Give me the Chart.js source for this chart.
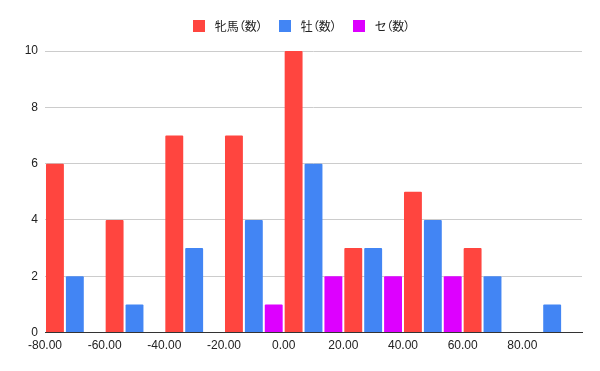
<!DOCTYPE html>
<html>
<head>
<meta charset="utf-8">
<script src="https://cdn.jsdelivr.net/npm/chart.js@4"></script>
<style>
html,body{margin:0;padding:0;background:#fff;}
#wrap{width:600px;height:371px;position:relative;}
#legend{position:absolute;top:20px;left:3px;width:597px;height:12px;display:flex;justify-content:center;align-items:center;
  font-family:'Noto Sans CJK JP','Liberation Sans',Arial,sans-serif;font-size:12px;color:#222;font-feature-settings:"palt";line-height:12px;}
#legend .item{display:flex;align-items:center;margin:0 8px;}
#legend .box{width:12px;height:12px;margin-right:10px;}
</style>
</head>
<body>
<div id="wrap"><canvas id="c" width="600" height="371"></canvas><div id="legend"></div></div>
<script>
// Bin start values (x-axis categories)
const binStarts = [-80, -60, -40, -20, 0, 20, 40, 60, 80];
const seriesNames = ["牝馬（数）", "牡（数）", "セ（数）"];
const mareCounts     = [6, 4, 7, 7, 10, 3, 5, 3, 0];
const stallionCounts = [2, 1, 3, 4, 6, 3, 4, 2, 1];
const geldingCounts  = [0, 0, 0, 1, 2, 2, 2, 0, 0];
const yTicks = [0, 2, 4, 6, 8, 10];
const binWidth = 20;

const colors = ["#ff453f", "#4285f4", "#dd00ff"];
const seriesValues = [mareCounts, stallionCounts, geldingCounts];

const datasets = seriesValues.map((vals, i) => ({
  label: seriesNames[i],
  data: binStarts.map((b, j) => ({ x: b + binWidth / 2, y: vals[j] })),
  backgroundColor: colors[i],
  borderWidth: 0,
  borderRadius: 1,
  categoryPercentage: 1.0,
  barPercentage: 0.9
}));

// HTML legend
const legendEl = document.getElementById("legend");
seriesNames.forEach((name, i) => {
  const item = document.createElement("div");
  item.className = "item";
  const box = document.createElement("span");
  box.className = "box";
  box.style.background = colors[i];
  const txt = document.createElement("span");
  txt.textContent = name;
  item.appendChild(box);
  item.appendChild(txt);
  legendEl.appendChild(item);
});

Chart.defaults.font.family = "'Liberation Sans', Arial, 'Noto Sans CJK JP', sans-serif";
Chart.defaults.font.size = 12;
Chart.defaults.color = "#222";

new Chart(document.getElementById("c"), {
  type: "bar",
  data: { datasets },
  options: {
    responsive: false,
    animation: false,
    layout: { padding: { left: 0, right: 18, top: 51, bottom: 12 } },
    plugins: {
      legend: { display: false },
      tooltip: { enabled: false }
    },
    scales: {
      x: {
        type: "linear",
        min: binStarts[0],
        max: binStarts[binStarts.length - 1] + binWidth,
        offset: false,
        grid: { display: false, drawTicks: false },
        border: { display: true, color: "#333", width: 1 },
        ticks: {
          stepSize: binWidth,
          padding: 6,
          color: "#222",
          maxRotation: 0,
          autoSkip: false,
          callback: (v) => binStarts.includes(v) ? v.toFixed(2) : null
        }
      },
      y: {
        min: yTicks[0],
        max: yTicks[yTicks.length - 1],
        grid: { color: "#cccccc", drawTicks: false },
        border: { display: false },
        ticks: { stepSize: 2, padding: 7, color: "#222" },
        afterFit: (s) => { s.width = 45; }
      }
    }
  }
});
</script>
</body>
</html>
